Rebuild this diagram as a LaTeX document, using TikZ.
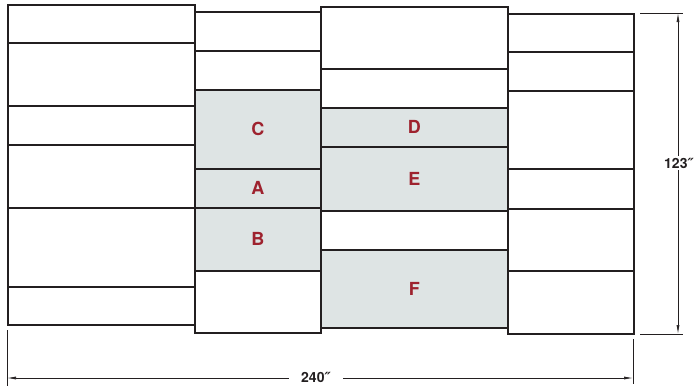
\documentclass[tikz,border=0pt]{standalone}
\usepackage{fontspec}
\setmainfont{TeX Gyre Heros}
\newfontfamily\primefont{DejaVu Sans}
\usetikzlibrary{arrows.meta}
\definecolor{ink}{RGB}{35,31,32}
\definecolor{shade}{RGB}{222,228,228}
\definecolor{mark}{RGB}{158,34,46}

\begin{document}
\begin{tikzpicture}[x=1pt, y=-1pt,
        cell/.style={rectangle, draw=ink, line width=1.5pt, fill=white, anchor=north west, inner sep=0pt, font=\fontsize{18}{18}\selectfont\bfseries, text=mark},
        wide/.style={cell, minimum width=187pt},
        slim/.style={cell, minimum width=126pt},
        zone/.style={fill=shade},
        dim/.style={draw=ink, line width=0.7pt},
        dimtip/.style={dim, {Latex[length=9pt,width=3pt]}-{Latex[length=9pt,width=3pt]}},
        dimlabel/.style={fill=white, inner sep=1.5pt, text=ink, font=\fontsize{14}{14}\selectfont\bfseries},
    ]

    \useasboundingbox (0,0) rectangle (696,386);

    % first column
    \node[wide, minimum height=38pt] (a1) at (7,4) {};
    \node[wide, minimum height=63pt] (a2) at (7,42) {};
    \node[wide, minimum height=39pt] (a3) at (7,105) {};
    \node[wide, minimum height=63pt] (a4) at (7,144) {};
    \node[wide, minimum height=79pt] (a5) at (7,207) {};
    \node[wide, minimum height=38pt] (a6) at (7,286) {};

    % second column
    \node[slim, minimum height=39pt] (b1) at (194,11) {};
    \node[slim, minimum height=39pt] (b2) at (194,50) {};
    \node[slim, zone, minimum height=79pt] (b3) at (194,89) {C};
    \node[slim, zone, minimum height=39pt] (b4) at (194,168) {A};
    \node[slim, zone, minimum height=63pt] (b5) at (194,207) {B};
    \node[slim, minimum height=62pt] (b6) at (194,270) {};

    % third column
    \node[wide, minimum height=62pt] (c1) at (320,6) {};
    \node[wide, minimum height=39pt] (c2) at (320,68) {};
    \node[wide, zone, minimum height=39pt] (c3) at (320,107) {D};
    \node[wide, zone, minimum height=64pt] (c4) at (320,146) {E};
    \node[wide, minimum height=39pt] (c5) at (320,210) {};
    \node[wide, zone, minimum height=78pt] (c6) at (320,249) {F};

    % fourth column
    \node[slim, minimum height=38pt] (d1) at (507,13) {};
    \node[slim, minimum height=39pt] (d2) at (507,51) {};
    \node[slim, minimum height=78pt] (d3) at (507,90) {};
    \node[slim, minimum height=40pt] (d4) at (507,168) {};
    \node[slim, minimum height=62pt] (d5) at (507,208) {};
    \node[slim, minimum height=63pt] (d6) at (507,270) {};

    % height
    \coordinate (htop) at (678,13);
    \coordinate (hbot) at (678,334);
    \draw[dim] (640,13) -- (683,13);
    \draw[dim] (640,334) -- (683,334);
    \draw[dimtip] (htop) -- (hbot);
    \node[dimlabel] (hlabel) at (679,163) {123{\primefont\bfseries\itshape″}};

    % width
    \coordinate (wleft) at (7,378);
    \coordinate (wright) at (633,378);
    \draw[dim] (7,330) -- (7,386);
    \draw[dim] (633,339) -- (633,384);
    \draw[dimtip] (wleft) -- (wright);
    \node[dimlabel, inner xsep=12pt] (wlabel) at (316,377) {240{\primefont\bfseries\itshape″}};
\end{tikzpicture}
\end{document}
